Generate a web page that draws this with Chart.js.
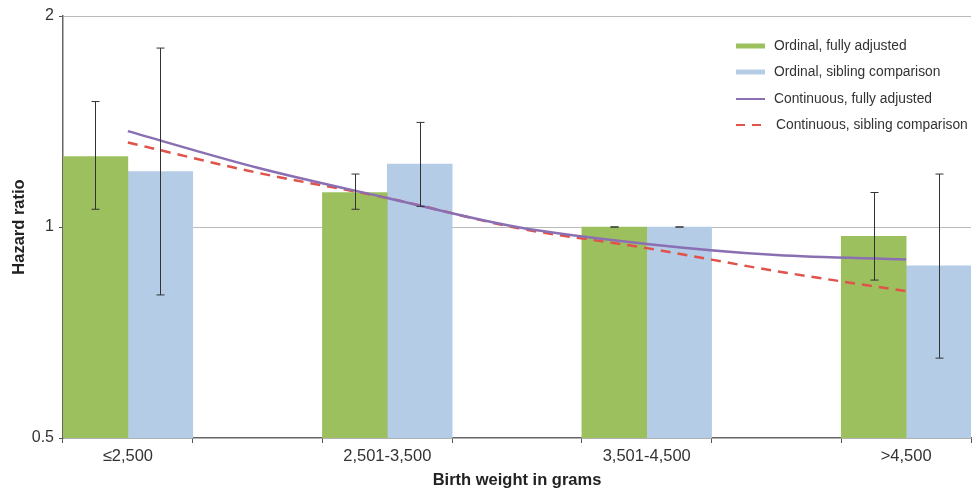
<!DOCTYPE html>
<html>
<head>
<meta charset="utf-8">
<script src="https://cdn.jsdelivr.net/npm/chart.js@4/dist/chart.umd.min.js"></script>
<style>
  html, body { margin: 0; padding: 0; background: #fff; }
  #wrap { width: 972px; height: 490px; position: relative; }
</style>
</head>
<body>
<div id="wrap"><canvas id="c" width="972" height="490"></canvas></div>
<script>
const categories = ['≤2,500', '', '2,501-3,500', '', '3,501-4,500', '', '>4,500'];
const ordinalFull   = [1.26, null, 1.12, null, 1.00, null, 0.97];
const ordinalFullLo = [1.06, null, 1.06, null, 1.00, null, 0.84];
const ordinalFullHi = [1.51, null, 1.19, null, 1.00, null, 1.12];
const ordinalSib    = [1.20, null, 1.23, null, 1.00, null, 0.88];
const ordinalSibLo  = [0.80, null, 1.07, null, 1.00, null, 0.65];
const ordinalSibHi  = [1.80, null, 1.41, null, 1.00, null, 1.19];
const contFull = [1.37, 1.215, 1.10, 1.00, 0.946, 0.912, 0.899];
const contSib  = [1.32, 1.195, 1.10, 0.997, 0.933, 0.865, 0.81];
const yTicks = [0.5, 1, 2];
const legendLabels = ['Ordinal, fully adjusted', 'Ordinal, sibling comparison', 'Continuous, fully adjusted', 'Continuous, sibling comparison'];

const GREEN = '#9dc05f', BLUE = '#b4cce6', PURPLE = '#8a6fb3', RED = '#e0524a';
const FONT = '"Liberation Sans", Arial, sans-serif';

const errorBars = {
  id: 'errorBars',
  afterDatasetsDraw(chart) {
    const ctx = chart.ctx, y = chart.scales.y;
    const sets = [[0, ordinalFullLo, ordinalFullHi], [1, ordinalSibLo, ordinalSibHi]];
    ctx.save();
    ctx.strokeStyle = '#333';
    ctx.lineWidth = 1;
    sets.forEach(([di, lo, hi]) => {
      const meta = chart.getDatasetMeta(di);
      meta.data.forEach((el, i) => {
        if (lo[i] == null) return;
        const x = Math.round(el.x) + 0.5;
        const y1 = y.getPixelForValue(lo[i]), y2 = y.getPixelForValue(hi[i]);
        ctx.beginPath();
        ctx.moveTo(x, y1); ctx.lineTo(x, y2);
        ctx.moveTo(x - 4, y1); ctx.lineTo(x + 4, y1);
        ctx.moveTo(x - 4, y2); ctx.lineTo(x + 4, y2);
        ctx.stroke();
      });
    });
    ctx.restore();
  }
};

const legendBox = {
  id: 'legendBox',
  afterDraw(chart) {
    const ctx = chart.ctx;
    const rows = [46, 72, 99, 125];
    ctx.save();
    ctx.font = '13.8px ' + FONT;
    ctx.fillStyle = '#333';
    ctx.textBaseline = 'middle';
    rows.forEach((ry, i) => {
      const x0 = 736, x1 = 765;
      ctx.beginPath();
      if (i === 0 || i === 1) {
        ctx.strokeStyle = i === 0 ? GREEN : BLUE;
        ctx.lineWidth = 5;
        ctx.setLineDash([]);
      } else if (i === 2) {
        ctx.strokeStyle = PURPLE;
        ctx.lineWidth = 2;
        ctx.setLineDash([]);
      } else {
        ctx.strokeStyle = RED;
        ctx.lineWidth = 2;
        ctx.setLineDash([9, 7]);
      }
      ctx.moveTo(x0, ry); ctx.lineTo(x1, ry);
      ctx.stroke();
      ctx.setLineDash([]);
      ctx.fillText(legendLabels[i], i === 3 ? 776 : 774, ry);
    });
    ctx.restore();
  }
};

new Chart(document.getElementById('c'), {
  data: {
    labels: categories,
    datasets: [
      { type: 'bar', label: legendLabels[0], data: ordinalFull, backgroundColor: GREEN, order: 2,
        categoryPercentage: 1, barPercentage: 1 },
      { type: 'bar', label: legendLabels[1], data: ordinalSib, backgroundColor: BLUE, order: 2,
        categoryPercentage: 1, barPercentage: 1 },
      { type: 'line', label: legendLabels[2], data: contFull, borderColor: PURPLE, borderWidth: 2.5,
        pointRadius: 0, cubicInterpolationMode: 'monotone', fill: false, order: 1 },
      { type: 'line', label: legendLabels[3], data: contSib, borderColor: RED, borderWidth: 2.5,
        borderDash: [10, 7], pointRadius: 0, cubicInterpolationMode: 'monotone', fill: false, order: 1 }
    ]
  },
  options: {
    responsive: false,
    animation: false,
    layout: { padding: { top: 16, right: 1, left: 0, bottom: 0 } },
    plugins: { legend: { display: false }, tooltip: { enabled: false } },
    scales: {
      x: {
        offset: true,
        grid: { offset: true, drawOnChartArea: false, drawTicks: true, tickLength: 5, color: '#555' },
        border: { color: '#666', width: 1.5 },
        ticks: { color: '#333', font: { family: FONT, size: 16.5 }, padding: 4, maxRotation: 0, autoSkip: false },
        title: { display: true, text: 'Birth weight in grams', color: '#222',
                 font: { family: FONT, size: 16.5, weight: 'bold' }, padding: { top: 2, bottom: 0 } },
        afterFit(s) { s.height = 52; }
      },
      y: {
        type: 'logarithmic',
        min: 0.5, max: 2,
        afterBuildTicks(s) { s.ticks = yTicks.map(v => ({ value: v })); },
        grid: { color: ctx => ctx.tick && ctx.tick.value === 0.5 ? 'rgba(0,0,0,0)' : '#bbb',
                tickColor: '#555', tickLength: 4, lineWidth: 1 },
        border: { color: '#666', width: 1.5 },
        ticks: { color: '#333', font: { family: FONT, size: 16 }, padding: 5,
                 callback: v => String(v) },
        title: { display: true, text: 'Hazard ratio', color: '#222',
                 font: { family: FONT, size: 16.5, weight: 'bold' }, padding: { top: 10, bottom: 6 } },
        afterFit(s) { s.width = 63; }
      }
    }
  },
  plugins: [errorBars, legendBox]
});
</script>
</body>
</html>
